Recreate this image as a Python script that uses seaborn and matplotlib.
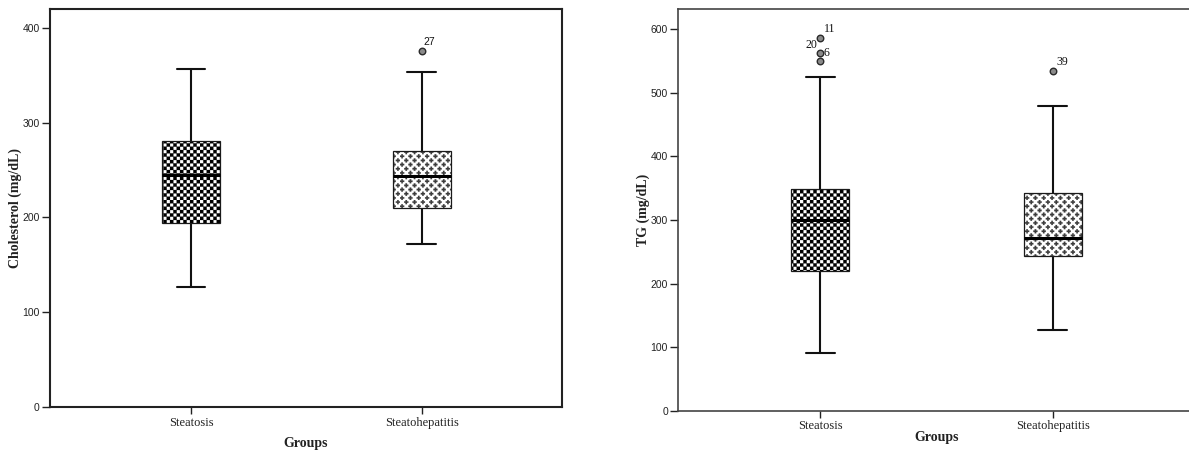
import warnings
import numpy as np
import pandas as pd
import matplotlib
matplotlib.use("Agg")
import matplotlib as mpl
import matplotlib.pyplot as plt
import matplotlib.hatch as mhatch
from matplotlib.path import Path
from matplotlib.patches import PathPatch
import seaborn as sns

warnings.filterwarnings("ignore")

# ---------------- data ----------------
groups = ["Steatosis", "Steatohepatitis"]

chol_whislo = [127, 172]
chol_q1 = [194, 210]
chol_med = [245, 244]
chol_q3 = [281, 270]
chol_whishi = [357, 354]
chol_outliers = [[], [376]]
chol_outlier_ids = [[], ["27"]]

tg_whislo = [90, 127]
tg_q1 = [220, 244]
tg_med = [300, 271]
tg_q3 = [349, 343]
tg_whishi = [525, 480]
tg_outliers = [[586, 562, 550], [534]]
tg_outlier_ids = [["11", "20", "6"], ["39"]]

chol_yticks = [0, 100, 200, 300, 400]
tg_yticks = [0, 100, 200, 300, 400, 500, 600]

# label offsets (points) for outlier ids -- style only
id_offsets = {"27": (5.3, 6.0), "11": (6.5, 6.8), "20": (-6.2, 6.0),
              "6": (4.6, 5.8), "39": (6.9, 6.7)}


# ---------------- custom hatch patterns ----------------
class CheckerHatch(mhatch.HatchPatternBase):
    def __init__(self, hatch, density):
        self.n = 30 if "c" in hatch else 0
        self.num_vertices = 5 * (self.n * self.n // 2)

    def set_vertices_and_codes(self, vertices, codes):
        n = self.n
        s = 1.0 / n
        k = 0
        for i in range(n):
            for j in range(n):
                if (i + j) % 2:
                    continue
                x0, y0 = i * s, j * s
                vertices[k:k + 5] = [(x0, y0), (x0 + s, y0), (x0 + s, y0 + s),
                                     (x0, y0 + s), (x0, y0)]
                codes[k] = Path.MOVETO
                codes[k + 1:k + 4] = Path.LINETO
                codes[k + 4] = Path.CLOSEPOLY
                k += 5


class PlusHatch(mhatch.HatchPatternBase):
    def __init__(self, hatch, density):
        self.n = 12 if "p" in hatch else 0
        self.num_vertices = 13 * 2 * self.n * self.n

    def set_vertices_and_codes(self, vertices, codes):
        n = self.n
        d = 1.0 / n
        a = 0.0205
        t = 0.0075
        shape = np.array([(-t, -a), (t, -a), (t, -t), (a, -t), (a, t), (t, t),
                          (t, a), (-t, a), (-t, t), (-a, t), (-a, -t), (-t, -t),
                          (-t, -a)])
        k = 0
        for i in range(n):
            for j in range(n):
                for cx, cy in (((i + 0.25) * d, (j + 0.25) * d),
                               ((i + 0.75) * d, (j + 0.75) * d)):
                    vertices[k:k + 13] = shape + (cx, cy)
                    codes[k] = Path.MOVETO
                    codes[k + 1:k + 12] = Path.LINETO
                    codes[k + 12] = Path.CLOSEPOLY
                    k += 13


mhatch._hatch_types.append(CheckerHatch)
mhatch._hatch_types.append(PlusHatch)

# ---------------- style ----------------
sns.set_style("ticks")
plt.rcParams["hatch.linewidth"] = 0.15
plt.rcParams["font.family"] = ["Liberation Serif", "DejaVu Serif"]

fig = plt.figure(figsize=(11.89, 4.57), dpi=100)
W, H = 1189, 457

ax1 = fig.add_axes([50 / W, (H - 407) / H, 512 / W, 398 / H])
ax2 = fig.add_axes([678.3 / W, (H - 410.7) / H, 515.7 / W, 401.7 / H])

hatches = ["c", "p"]
hatch_colors = ["black", "#3c3c3c"]


def draw_panel(ax, whislo, q1, med, q3, whishi, outliers, ids, ylim, yticks,
               ylabel, spine_lw, spine_col, xlab_y, id_font):
    stats = []
    for i in range(len(groups)):
        stats.append(dict(label=groups[i], whislo=whislo[i], q1=q1[i],
                          med=med[i], q3=q3[i], whishi=whishi[i], fliers=[]))
    art = ax.bxp(stats, positions=list(range(len(groups))), widths=0.25,
                 capwidths=0.125, patch_artist=True, showfliers=False,
                 boxprops=dict(facecolor="none", edgecolor="#1a1a1a",
                               linewidth=0.9, zorder=3),
                 medianprops=dict(color="black", linewidth=2.2, zorder=4),
                 whiskerprops=dict(color="#111111", linewidth=1.5),
                 capprops=dict(color="#111111", linewidth=1.5))
    for patch, h, hc in zip(art["boxes"], hatches, hatch_colors):
        under = PathPatch(patch.get_path(), transform=ax.transData,
                          facecolor="white", edgecolor=hc, linewidth=0,
                          hatch=h, zorder=2.5)
        ax.add_patch(under)

    xs, ys, labs = [], [], []
    for i, (vals, idl) in enumerate(zip(outliers, ids)):
        for v, lab in zip(vals, idl):
            xs.append(i)
            ys.append(v)
            labs.append(lab)
    if xs:
        df = pd.DataFrame({"pos": xs, "val": ys})
        sns.scatterplot(data=df, x="pos", y="val", ax=ax, marker="o", s=22,
                        color="#8a8a8a", edgecolor="#2a2a2a", linewidth=1.0,
                        zorder=5, legend=False)
        for x, y, lab in zip(xs, ys, labs):
            ax.annotate(lab, (x, y), xytext=id_offsets[lab],
                        textcoords="offset points", ha="center", va="center",
                        fontsize=id_font[1], family=id_font[0], color="#111111")

    ax.set_xlim(-0.611, 1.608)
    ax.set_ylim(*ylim)
    ax.set_xticks(list(range(len(groups))))
    ax.set_xticklabels(groups, family="Liberation Serif", fontsize=9)
    ax.set_yticks(yticks)
    ax.set_yticklabels([str(t) for t in yticks], family="Liberation Sans",
                       fontsize=7.5)
    ax.tick_params(axis="y", direction="out", length=6.0, width=1.0,
                   color="#222222", pad=1.5, labelcolor="#222222")
    ax.tick_params(axis="x", direction="out", length=5.0, width=1.0,
                   color="#222222", pad=2.0, labelcolor="#222222")
    ax.set_xlabel("Groups", fontsize=10, fontweight="bold",
                  family="Liberation Serif", color="#222222")
    ax.set_ylabel(ylabel, fontsize=10, fontweight="bold",
                  family="Liberation Serif", color="#222222")
    ax.xaxis.set_label_coords(0.5, xlab_y)
    ax.xaxis.label.set_va("center")
    ax.yaxis.set_label_coords(-0.068, 0.5)
    ax.yaxis.label.set_va("center")
    for sp in ax.spines.values():
        sp.set_visible(True)
        sp.set_linewidth(spine_lw)
        sp.set_color(spine_col)
    ax.grid(False)
    ax.set_facecolor("white")


draw_panel(ax1, chol_whislo, chol_q1, chol_med, chol_q3, chol_whishi,
           chol_outliers, chol_outlier_ids, (0, 420), chol_yticks,
           "Cholesterol (mg/dL)", 1.5, "#222222", -0.0905,
           ("Liberation Sans", 7.5))
draw_panel(ax2, tg_whislo, tg_q1, tg_med, tg_q3, tg_whishi,
           tg_outliers, tg_outlier_ids, (0, 632), tg_yticks,
           "TG (mg/dL)", 1.2, "#444444", -0.066,
           ("Liberation Serif", 8.5))

fig.savefig("out.png", dpi=100, facecolor="white")
